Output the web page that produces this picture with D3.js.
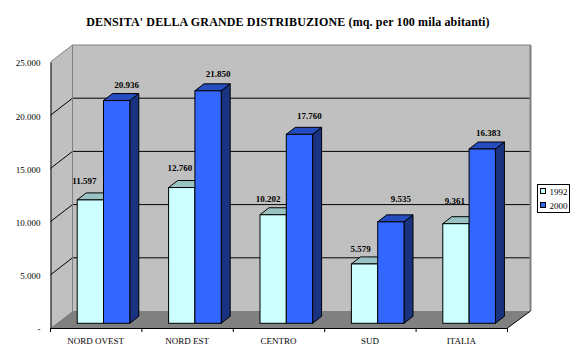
<!DOCTYPE html>
<html>
<head>
<meta charset="utf-8">
<script src="https://cdn.jsdelivr.net/npm/d3@7"></script>
<style>
  html, body { margin: 0; padding: 0; background: #fff; }
  svg { display: block; }
  text { font-family: "Liberation Serif", serif; fill: #000; }
</style>
</head>
<body>
<div id="chart"></div>
<script>
const categories = ["NORD OVEST", "NORD EST", "CENTRO", "SUD", "ITALIA"]
const years = ["1992", "2000"]
const values1992 = [11597, 12760, 10202, 5579, 9361]
const values2000 = [20936, 21850, 17760, 9535, 16383]
const yTicks = [0, 5000, 10000, 15000, 20000, 25000]

// the labels were hand placed in the original, so each one has its own nudge
const nudge1992 = [[-6, -19], [-2, -20], [-5, -16], [-4, -15], [-1, -23]]
const nudge2000 = [[10, -16], [10, -17], [10, -18], [10, -23], [6, -16]]

const width = 576, height = 359
const depthX = 22, depthY = 17       // wall depth
const barDepthX = 9, barDepthY = 7   // bar depth
const barOffX = 0, barOffY = 4.7     // bars stand a bit behind the front edge

const svg = d3.select("#chart").append("svg")
    .attr("width", width)
    .attr("height", height)

const x = d3.scaleBand().domain(categories).range([50.5, 507.5])
const xInner = d3.scaleBand().domain(years).range([26.7, 79.3])
const y = d3.scaleLinear().domain([0, 25000]).range([328, 62])

const it = d3.formatLocale({decimal: ",", thousands: ".", grouping: [3], currency: ["", ""]})
const fmt = it.format(",d")
const tickFmt = d => d == 0 ? "-" : fmt(d)

const x0 = x.range()[0], x1 = x.range()[1]
const yTop = y(25000), yBase = y(0)

function poly(pts, fill, stroke){
    return svg.append("polygon")
        .attr("points", pts.map(p => p.join(",")).join(" "))
        .attr("fill", fill)
        .attr("stroke", stroke || "none")
}

// walls + floor
poly([[x0, yTop], [x0 + depthX, yTop - depthY], [x0 + depthX, yBase - depthY], [x0, yBase]], "#c0c0c0")
poly([[x0 + depthX, yTop - depthY], [x1 + depthX + 1, yTop - depthY], [x1 + depthX + 1, yBase - depthY], [x0 + depthX, yBase - depthY]], "#c0c0c0")
poly([[x0, yBase], [x0 + depthX, yBase - depthY], [x1 + depthX + 1, yBase - depthY], [x1, yBase]], "#808080")

// gridlines, wall part and side part
svg.append("g").selectAll("path")
    .data(yTicks.slice(1, 5))
    .join("path")
    .attr("d", d => `M${x0},${y(d)}L${x0 + depthX},${y(d) - depthY}L${x1 + depthX + 1},${y(d) - depthY}`)
    .attr("fill", "none")
    .attr("stroke", "#000")
    .attr("stroke-width", 1)

// wall outline
svg.append("path")
    .attr("d", `M${x0},${yTop}L${x0 + depthX},${yTop - depthY}L${x1 + depthX + 1},${yTop - depthY}L${x1 + depthX + 1},${yBase - depthY}`)
    .attr("fill", "none")
    .attr("stroke", "#808080")
    .attr("stroke-width", 1)
svg.append("path")
    .attr("d", `M${x0 + depthX},${yTop - depthY}V${yBase - depthY}`)
    .attr("stroke", "#808080")
    .attr("stroke-width", 1)
svg.append("path")
    .attr("d", `M${x1 + depthX + 1},${yTop - depthY}V${yBase - depthY}`)
    .attr("stroke", "#808080")
    .attr("stroke-width", 2)

// right floor edge
svg.append("line")
    .attr("x1", x1).attr("y1", yBase)
    .attr("x2", x1 + depthX + 1).attr("y2", yBase - depthY)
    .attr("stroke", "#000")

// bars
const series = [
    {year: "1992", values: values1992, nudge: nudge1992, front: "#ccffff", top: "#99c2c2", side: "#99c2c2"},
    {year: "2000", values: values2000, nudge: nudge2000, front: "#3366ff", top: "#264dbf", side: "#1a3380"}
]

series.forEach(function(s){
    const g = svg.append("g")
    categories.forEach(function(c, i){
        const left = x(c) + xInner(s.year) + barOffX
        const right = left + xInner.bandwidth()
        const top = y(s.values[i]) - barOffY
        const bottom = y(0) - barOffY
        const dx = barDepthX, dy = barDepthY
        const face = (pts, fill) => g.append("polygon")
            .attr("points", pts.map(p => p.join(",")).join(" "))
            .attr("fill", fill)
            .attr("stroke", "#000")
            .attr("stroke-width", 1)
        face([[right, top], [right + dx, top - dy], [right + dx, bottom - dy], [right, bottom]], s.side)
        face([[left, top], [left + dx, top - dy], [right + dx, top - dy], [right, top]], s.top)
        g.append("rect")
            .attr("x", left)
            .attr("y", top)
            .attr("width", right - left)
            .attr("height", bottom - top)
            .attr("fill", s.front)
            .attr("stroke", "#000")
            .attr("stroke-width", 1)
    })
})

// data labels on top of everything
series.forEach(function(s){
    svg.append("g").selectAll("text")
        .data(categories)
        .join("text")
        .attr("x", (c, i) => x(c) + xInner(s.year) + xInner.bandwidth() / 2 + s.nudge[i][0])
        .attr("y", (c, i) => y(s.values[i]) - barOffY + s.nudge[i][1])
        .attr("dy", "0.35em")
        .attr("text-anchor", "middle")
        .attr("font-size", 9)
        .attr("font-weight", "bold")
        .text((c, i) => fmt(s.values[i]))
})

// axes
const yAxis = d3.axisLeft(y).tickValues(yTicks).tickFormat(tickFmt).tickSize(0).tickPadding(10)
const yG = svg.append("g").attr("transform", `translate(${x0},0)`).call(yAxis)
yG.select(".domain").attr("stroke", "#000")
yG.selectAll("text").attr("font-size", 9).attr("y", 1).style("font-family", '"Liberation Serif", serif')

const xAxis = d3.axisBottom(x).tickSize(0).tickPadding(10)
const xG = svg.append("g").attr("transform", `translate(-0.5,${yBase})`).call(xAxis)
xG.select(".domain").attr("stroke", "#000").attr("d", `M${x0 + 0.5},0.5H${x1 + 0.5}`)
xG.selectAll("text").attr("font-size", 9).style("font-family", '"Liberation Serif", serif')

// ticks between the categories
xG.append("g").selectAll("line")
    .data(categories.map(c => x(c)).concat([x1]))
    .join("line")
    .attr("x1", d => d + 0.5).attr("x2", d => d + 0.5)
    .attr("y1", 0).attr("y2", 4)
    .attr("stroke", "#000")

// title
svg.append("text")
    .attr("x", 288)
    .attr("y", 26)
    .attr("text-anchor", "middle")
    .attr("font-size", 12)
    .attr("letter-spacing", 0.14)
    .attr("font-weight", "bold")
    .text("DENSITA' DELLA GRANDE DISTRIBUZIONE (mq. per 100 mila abitanti)")

// legend
const legend = svg.append("g").attr("transform", "translate(537.5,184.5)")
legend.append("rect")
    .attr("width", 32)
    .attr("height", 28)
    .attr("fill", "#fff")
    .attr("stroke", "#000")
const item = legend.selectAll("g")
    .data(series)
    .join("g")
    .attr("transform", (d, i) => `translate(3,${4 + i * 14})`)
item.append("rect")
    .attr("width", 5)
    .attr("height", 5)
    .attr("fill", d => d.front)
    .attr("stroke", "#000")
item.append("text")
    .attr("x", 9)
    .attr("y", 3)
    .attr("dy", "0.35em")
    .attr("font-size", 9)
    .text(d => d.year)
</script>
</body>
</html>
